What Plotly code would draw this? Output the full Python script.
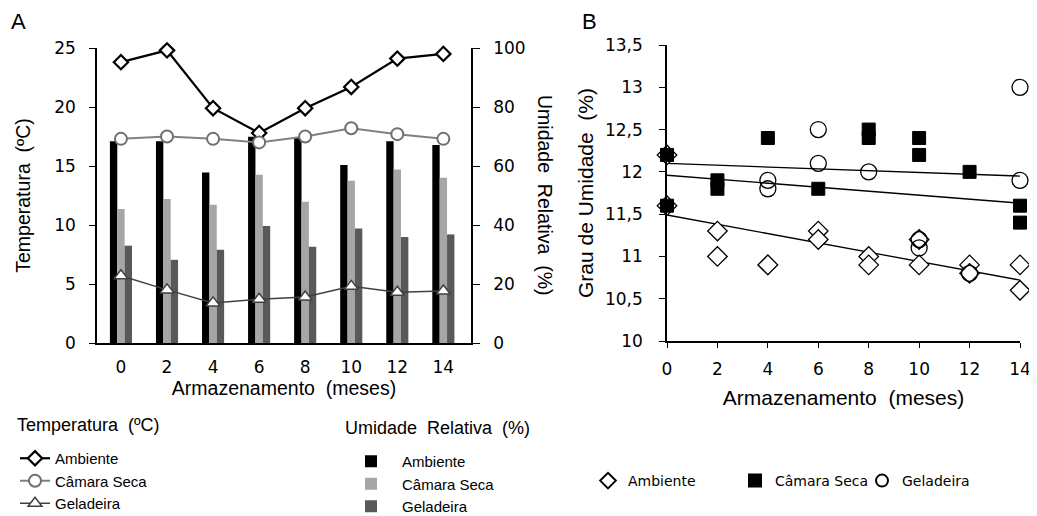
import plotly.graph_objects as go

# ---------------- Panel A data ----------------
months = [0, 2, 4, 6, 8, 10, 12, 14]
temp_ambiente = [23.8, 24.8, 19.9, 17.8, 19.9, 21.7, 24.1, 24.5]
temp_camara = [17.3, 17.5, 17.3, 17.0, 17.5, 18.2, 17.7, 17.3]
temp_geladeira = [5.7, 4.5, 3.4, 3.7, 3.9, 4.8, 4.3, 4.4]
ur_ambiente = [68.4, 68.4, 57.8, 69.9, 69.7, 60.3, 68.4, 67.1]
ur_camara = [45.4, 48.8, 46.9, 57.0, 47.9, 55.0, 58.8, 56.0]
ur_geladeira = [33.0, 28.2, 31.6, 39.7, 32.6, 38.8, 35.9, 36.8]

# ---------------- Panel B data ----------------
amb_x = [0, 0, 2, 2, 4, 4, 6, 6, 8, 8, 10, 10, 12, 12, 14, 14]
amb_y = [12.2, 11.6, 11.3, 11.0, 10.9, 10.9, 11.3, 11.2, 11.0, 10.9, 11.2, 10.9, 10.9, 10.8, 10.9, 10.6]
cam_x = [0, 0, 2, 2, 4, 6, 8, 8, 10, 10, 12, 14, 14]
cam_y = [12.2, 11.6, 11.9, 11.8, 12.4, 11.8, 12.5, 12.4, 12.4, 12.2, 12.0, 11.6, 11.4]
gel_x = [4, 4, 6, 6, 8, 10, 10, 12, 14, 14]
gel_y = [11.9, 11.8, 12.5, 12.1, 12.0, 11.2, 11.1, 10.8, 13.0, 11.9]
trend_x = [0, 14]
amb_trend = [11.49, 10.72]
cam_trend = [11.96, 11.63]
gel_trend = [12.10, 11.95]

FONT = "Liberation Sans"
TICKFONT = "DejaVu Sans"
fig = go.Figure()

# Bars (humidity) on main axis y (right side)
bar_cols = ["#000000", "#a6a6a6", "#595959"]
for name, vals, c in [("Ambiente", ur_ambiente, bar_cols[0]),
                      ("Câmara Seca", ur_camara, bar_cols[1]),
                      ("Geladeira", ur_geladeira, bar_cols[2])]:
    fig.add_trace(go.Bar(x=months, y=vals, name=name, marker=dict(color=c, line=dict(width=0)),
                         xaxis="x", yaxis="y", legend="legend2"))

# Lines (temperature) on y2 (left side, overlaying)
fig.add_trace(go.Scatter(x=months, y=temp_ambiente, name="Ambiente", mode="lines+markers",
                         line=dict(color="#000000", width=2.2),
                         marker=dict(symbol="diamond", size=11, color="white", line=dict(color="black", width=2.2)),
                         xaxis="x", yaxis="y2", legend="legend", cliponaxis=False))
fig.add_trace(go.Scatter(x=months, y=temp_camara, name="Câmara Seca", mode="lines+markers",
                         line=dict(color="#808080", width=2),
                         marker=dict(symbol="circle", size=12, color="white", line=dict(color="#707070", width=2)),
                         xaxis="x", yaxis="y2", legend="legend", cliponaxis=False))
fig.add_trace(go.Scatter(x=months, y=temp_geladeira, name="Geladeira", mode="lines+markers",
                         line=dict(color="#404040", width=1.5),
                         marker=dict(symbol="triangle-up", size=12, color="white", line=dict(color="#404040", width=1.5)),
                         xaxis="x", yaxis="y2", legend="legend", cliponaxis=False))

# Panel B
for ty in [amb_trend, cam_trend, gel_trend]:
    fig.add_trace(go.Scatter(x=trend_x, y=ty, mode="lines", line=dict(color="black", width=1.3),
                             showlegend=False, xaxis="x3", yaxis="y3", hoverinfo="skip"))
fig.add_trace(go.Scatter(x=amb_x, y=amb_y, mode="markers", name="Ambiente",
                         marker=dict(symbol="diamond", size=15, color="white", line=dict(color="black", width=1.3)),
                         xaxis="x3", yaxis="y3", legend="legend3", cliponaxis=False))
fig.add_trace(go.Scatter(x=gel_x, y=gel_y, mode="markers", name="Geladeira",
                         marker=dict(symbol="circle", size=16, color="rgba(255,255,255,0)", line=dict(color="black", width=1.3)),
                         xaxis="x3", yaxis="y3", legend="legend5", cliponaxis=False))
fig.add_trace(go.Scatter(x=cam_x, y=cam_y, mode="markers", name="Câmara Seca",
                         marker=dict(symbol="square", size=13, color="black", line=dict(color="black", width=1)),
                         xaxis="x3", yaxis="y3", legend="legend4", cliponaxis=False))

# page body has an 8px margin: the figure starts at (8, 8) in the window
OFF = 8
W, H = 1037 - OFF, 516 - OFF
def px(v):
    return (v - OFF) / W
def py(v):
    return 1 - (v - OFF) / H

tickfont = dict(family=TICKFONT, size=17, color="black")
titleA = dict(family=FONT, size=19.5, color="black")
titleB = dict(family=FONT, size=21, color="black")

leg_common = dict(bgcolor="rgba(0,0,0,0)", borderwidth=0, xanchor="left", yanchor="top",
                  traceorder="normal", tracegroupgap=0)

fig.update_layout(
    width=W, height=H, margin=dict(l=0, r=0, t=0, b=0, autoexpand=False),
    paper_bgcolor="white", plot_bgcolor="white",
    separators=",.",
    barmode="group", bargap=0.52, bargroupgap=0,
    font=dict(family=FONT, color="black"),
    xaxis=dict(domain=[px(97), px(471)], range=[-1.04, 15.2], tickvals=months, ticks="",
               showline=True, linecolor="black", linewidth=1.5, showgrid=False, zeroline=False,
               tickfont=tickfont, anchor="y", ticklabelstandoff=8,
               title=dict(text="Armazenamento  (meses)", font=titleA, standoff=3)),
    yaxis=dict(domain=[py(343), py(48)], range=[0, 100], dtick=20, side="right", anchor="x",
               showline=True, linecolor="black", linewidth=1.5, ticks="outside", ticklen=7,
               tickcolor="black", showgrid=False, zeroline=False, tickfont=tickfont,
               ticklabelstandoff=10),
    yaxis2=dict(range=[0, 25], dtick=5, side="left", overlaying="y", anchor="x",
                showline=True, linecolor="black", linewidth=1.5, ticks="outside", ticklen=6,
                tickcolor="black", showgrid=False, zeroline=False, tickfont=tickfont,
                ticklabelstandoff=10,
                title=dict(text="Temperatura  (ºC)", font=titleA, standoff=18)),
    xaxis3=dict(domain=[px(667), px(1020)], range=[0, 14], dtick=2, anchor="y3",
                showline=True, linecolor="black", linewidth=1.5, ticks="outside", ticklen=5,
                tickcolor="black", showgrid=False, zeroline=False, tickfont=tickfont,
                ticklabelstandoff=7,
                title=dict(text="Armazenamento  (meses)", font=titleB, standoff=12)),
    yaxis3=dict(domain=[py(341), py(45)], range=[10, 13.5], dtick=0.5, anchor="x3",
                showline=True, linecolor="black", linewidth=1.5, ticks="outside", ticklen=6,
                tickcolor="black", showgrid=False, zeroline=False, tickfont=tickfont,
                ticklabelstandoff=13,
                title=dict(text="Grau de Umidade  (%)", font=titleB, standoff=6)),
    legend=dict(x=px(15), y=py(442), font=dict(family=FONT, size=15), **leg_common),
    legend2=dict(x=px(340), y=py(445), font=dict(family=FONT, size=15), itemwidth=52, **leg_common),
    legend3=dict(x=px(588), y=py(465), font=dict(family=TICKFONT, size=14), itemsizing="constant", **leg_common),
    legend4=dict(x=px(735), y=py(465), font=dict(family=TICKFONT, size=14), itemsizing="constant", **leg_common),
    legend5=dict(x=px(862), y=py(465), font=dict(family=TICKFONT, size=14), itemsizing="constant", **leg_common),
    annotations=[
        dict(text="A", x=px(18), y=py(22), xref="paper", yref="paper", showarrow=False,
             font=dict(family=FONT, size=22), xanchor="center", yanchor="middle"),
        dict(text="B", x=px(589), y=py(22), xref="paper", yref="paper", showarrow=False,
             font=dict(family=FONT, size=22), xanchor="center", yanchor="middle"),
        dict(text="Umidade  Relativa  (%)", x=px(545), y=py(195), xref="paper", yref="paper",
             showarrow=False, textangle=90, font=titleA, xanchor="center", yanchor="middle"),
        dict(text="Temperatura  (ºC)", x=px(15), y=py(425), xref="paper", yref="paper",
             showarrow=False, font=dict(family=FONT, size=18), xanchor="left", yanchor="middle"),
        dict(text="Umidade  Relativa  (%)", x=px(343), y=py(428), xref="paper", yref="paper",
             showarrow=False, font=dict(family=FONT, size=18), xanchor="left", yanchor="middle"),
    ],
)

fig.write_html("out.html")
